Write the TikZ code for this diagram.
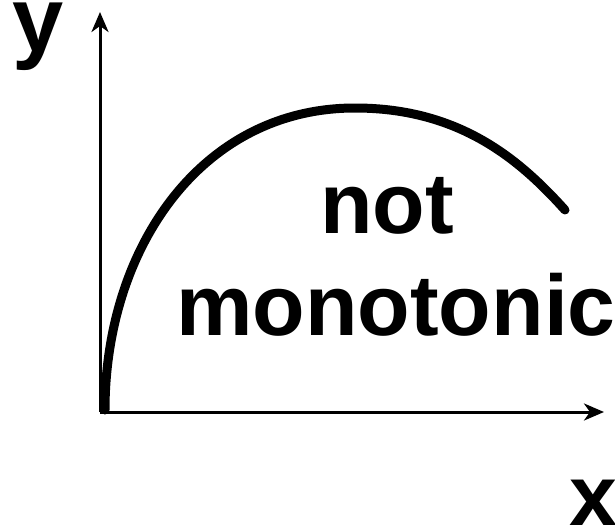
\documentclass[tikz,border=0pt]{standalone}
\usepackage{fontspec}
\setmainfont{Liberation Sans}
\usetikzlibrary{arrows.meta}
\begin{document}
\begin{tikzpicture}[x=1pt,y=-1pt,
  axis/.style={line width=3pt,-{Stealth[length=20pt,width=17pt,inset=6pt]}},
  curveline/.style={line width=9pt,line cap=round},
  lbl/.style={font=\fontsize{86}{86}\selectfont\bfseries,inner sep=0pt,anchor=base}]
\useasboundingbox (0,0) rectangle (615,527);
\coordinate (O) at (100,412);
\coordinate (Ytip) at (100,12);
\coordinate (Xtip) at (604,412);
\draw[axis] (O) -- (Ytip);
\draw[axis] (O) -- (Xtip);
\coordinate (C0) at (105,410);
\coordinate (Cpk) at (355,108);
\coordinate (C1) at (565,210);
\draw[curveline] (C0) .. controls (105,250) and (200,108) .. (Cpk) .. controls (460,108) and (520,160) .. (C1);
\node[lbl,font=\fontsize{92}{92}\selectfont\bfseries] (ylab) at (38,52) {y};
\node[lbl] (xlab) at (593,525) {x};
\node[lbl] (not) at (387,233) {not};
\node[lbl] (mono) at (396,335) {monotonic};
\end{tikzpicture}
\end{document}
